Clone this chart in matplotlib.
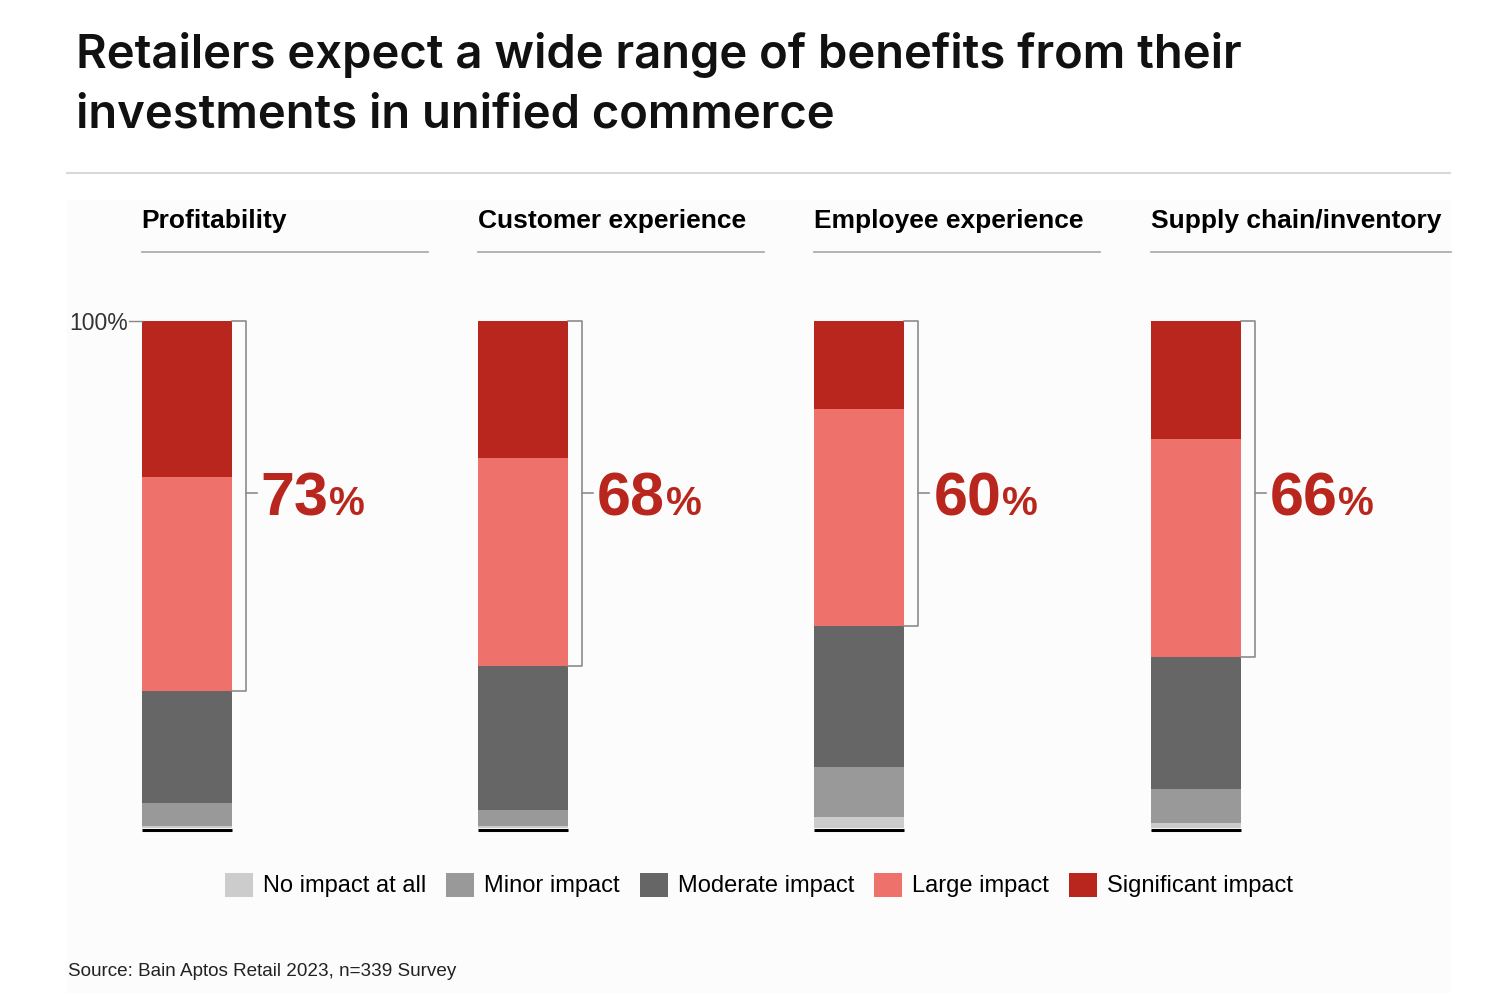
import matplotlib.pyplot as plt
import matplotlib.transforms as mtransforms
from matplotlib.patches import Rectangle, Patch
import numpy as np

# data
categories = ['Profitability', 'Customer experience', 'Employee experience', 'Supply chain/inventory']
no_impact = [0.3, 0.3, 2.2, 0.9]
minor = [4.7, 3.3, 9.9, 6.7]
moderate = [22.0, 28.4, 27.7, 26.1]
large = [42.2, 41.0, 42.8, 43.0]
significant = [30.8, 27.0, 17.4, 23.3]
top_two = [73, 68, 60, 66]

series = [no_impact, minor, moderate, large, significant]
labels = ['No impact at all', 'Minor impact', 'Moderate impact', 'Large impact', 'Significant impact']
colors = ['#cccccc', '#999999', '#666666', '#ee716b', '#b8261d']

W, H = 1509, 998
fig = plt.figure(figsize=(W / 100, H / 100), dpi=100)
plt.rcParams['font.family'] = ['Liberation Sans', 'DejaVu Sans']

def fx(px):
    return px / W

def fy(py):
    return 1 - py / H

# light panel behind the chart
fig.patches.append(Rectangle((fx(67), fy(992)), fx(1450) - fx(67), fy(200) - fy(992),
                             transform=fig.transFigure, color='#fcfcfc', zorder=-10))

# title (two lines placed by hand)
title_lines = ['Retailers expect a wide range of benefits from their',
               'investments in unified commerce']
for line, base in zip(title_lines, [68, 128]):
    fig.text(fx(76), fy(base), line, family=['Inter', 'Liberation Sans'], fontsize=34,
             fontweight='semibold', color='#111111', va='baseline')

fig.add_artist(plt.Line2D([fx(67), fx(1450)], [fy(173), fy(173)], color='#d9d9d9', lw=1.5))

# main axes: y 0..100 mapped to px 828..321
step = 336.4
x0 = 186.5
ax = fig.add_axes([0, fy(828), 1, fy(321) - fy(828)])
ax.set_xlim(-x0 / step, (W - x0) / step)
ax.set_ylim(0, 100)
ax.axis('off')

x = np.arange(len(categories))
bw = 90 / step
bottom = np.zeros(len(categories))
for vals, c in zip(series, colors):
    ax.bar(x, vals, bw, bottom=bottom, color=c, edgecolor='none', clip_on=False, zorder=2)
    bottom += np.array(vals)

# black baseline under each bar
for xi in x:
    ax.plot([xi - bw / 2, xi + bw / 2], [-0.3, -0.3], color='black', lw=2.2, clip_on=False,
            solid_capstyle='butt', zorder=3)

# 100% label
ax.plot([-0.5 * bw - 13 / step, -0.5 * bw], [100, 100], color='#888888', lw=1, clip_on=False)
ax.text(-0.5 * bw - 14 / step, 99.6, '100%', ha='right', va='center', fontsize=16.5, color='#333333')

trans = mtransforms.blended_transform_factory(ax.transData, fig.transFigure)
off = 14 / step
mid_y = 66.1
label_base = 61.7
for i, cat in enumerate(categories):
    left = i - bw / 2
    right = i + bw / 2
    # header + underline
    ax.text(left, fy(221), cat, transform=trans, fontsize=19, fontweight='bold',
            va='center', ha='left', color='#000000')
    ulen = 286 / step if i < 3 else 300 / step
    ax.plot([left, left + ulen], [fy(252), fy(252)], transform=trans, color='#a6a6a6', lw=1.2,
            clip_on=False)

    # bracket over significant + large
    lo = no_impact[i] + minor[i] + moderate[i]
    ax.plot([right, right + off, right + off, right], [100, 100, lo, lo],
            color='#8c8c8c', lw=1.2, clip_on=False)
    ax.plot([right + off, right + off + 11 / step], [mid_y, mid_y], color='#8c8c8c', lw=1.2,
            clip_on=False)

    t = ax.text(right + off + 15 / step, label_base, str(top_two[i]), fontsize=44,
                fontweight='bold', color='#b8261d', va='baseline', ha='left')
    fig.canvas.draw()
    bb = t.get_window_extent()
    ax.annotate('%', xy=(bb.x1, label_base), xycoords=('figure pixels', 'data'), xytext=(0.5, 0),
                textcoords='offset points', fontsize=29, fontweight='bold', color='#b8261d',
                va='baseline', ha='left')

# legend
handles = [Patch(facecolor=c, edgecolor='none', label=l) for c, l in zip(colors, labels)]
fig.legend(handles=handles, loc='center', bbox_to_anchor=(fx(759), fy(885)), ncol=5,
           frameon=False, fontsize=17, handlelength=1.19, handleheight=1.19,
           handletextpad=0.42, columnspacing=0.85, borderaxespad=0)

fig.text(fx(68), fy(972), 'Source: Bain Aptos Retail 2023, n=339 Survey', fontsize=13.6,
         va='center', ha='left', color='#222222')

fig.savefig('out.png', dpi=100)
